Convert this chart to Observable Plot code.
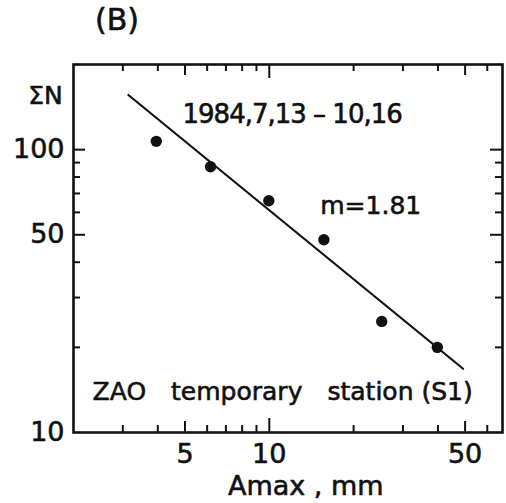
<!DOCTYPE html>
<html>
<head>
<meta charset="utf-8">
<script src="https://cdn.jsdelivr.net/npm/d3@7"></script>
<script src="https://cdn.jsdelivr.net/npm/@observablehq/plot@0.6"></script>
<style>
  html, body { margin: 0; padding: 0; background: #fff; }
  #title { height: 40px; line-height: 40px; font-family: "DejaVu Sans", sans-serif; font-size: 30px; padding-left: 95px; color: #111; -webkit-text-stroke: 0.6px #111; }
  #chart svg { display: block; }
</style>
</head>
<body>
<div id="title">(B)</div>
<div id="chart"></div>
<script>
// Observed data points (Amax in mm, cumulative number ΣN)
const amax = [3.95, 6.17, 9.96, 15.66, 25.2, 39.8];
const sumN = [107, 87, 66, 48, 24.7, 20.0];

// Fitted line end points (m = 1.81)
const fitAmax = [3.14, 49.2];
const fitN = [156, 16.8];

// Tick values
const xMajorTicks = [10];
const xHalfTicks = [5, 50];
const xMinorTicks = [3, 4, 6, 7, 8, 9, 20, 30, 40, 60];
const xTickLabels = [5, 10, 50];
const yMajorTicks = [50, 100];
const yMinorTicks = [20, 30, 40, 60, 70, 80, 90];
const yTickLabels = [10, 50, 100];

// Annotations (text, anchor in data units)
const noteText = ["1984,7,13 \u2013 10,16", "m=1.81", "ZAO\u2003temporary\u2003station (S1)", "\u03A3N", "Amax , mm"];
const noteX = [4.9, 15.2, 2.34, 1.83, 13.5];
const noteY = [124.7, 59.4, 13.0, 145.5, 5.99];
const noteAnchor = ["start", "start", "start", "end", "middle"];
const noteSize = [26, 25, 25, 25, 27];

const points = amax.map((x, i) => ({x, y: sumN[i]}));
const fit = fitAmax.map((x, i) => ({x, y: fitN[i]}));
const notes = noteText.map((t, i) => ({t, x: noteX[i], y: noteY[i], a: noteAnchor[i], s: noteSize[i]}));

const W = 506, H = 463;
const mL = 73, mR = 4, mT = 24, mB = 71;
const fw = W - mL - mR, fh = H - mT - mB;
const ink = "#111";
const font = "DejaVu Sans";
const textStroke = {stroke: ink, strokeWidth: 0.6};

function xTicks(vals, len) {
  return [
    Plot.tickX(vals, {x: d => d, stroke: ink, strokeWidth: 2, insetTop: fh - len}),
    Plot.tickX(vals, {x: d => d, stroke: ink, strokeWidth: 2, insetBottom: fh - len})
  ];
}
function yTicks(vals, len) {
  return [
    Plot.tickY(vals, {y: d => d, stroke: ink, strokeWidth: 2, insetRight: fw - len}),
    Plot.tickY(vals, {y: d => d, stroke: ink, strokeWidth: 2, insetLeft: fw - len})
  ];
}
function noteMark(anchor) {
  return Plot.text(notes.filter(d => d.a === anchor), {
    x: "x", y: "y", text: "t", textAnchor: anchor, fontSize: "s", lineAnchor: "bottom", fill: ink, ...textStroke
  });
}

const chart = Plot.plot({
  width: W,
  height: H,
  marginLeft: mL,
  marginRight: mR,
  marginTop: mT,
  marginBottom: mB,
  style: {fontFamily: font, color: ink, background: "#fff"},
  x: {type: "log", domain: [2, 68], axis: null},
  y: {type: "log", domain: [10, 200], axis: null},
  marks: [
    ...xTicks(xMinorTicks, 7),
    ...xTicks(xHalfTicks, 11),
    ...xTicks(xMajorTicks, 14),
    ...yTicks(yMinorTicks, 7),
    ...yTicks(yMajorTicks, 12),
    Plot.frame({stroke: ink, strokeWidth: 2.6}),
    Plot.text(xTickLabels, {x: d => d, text: d => String(d), frameAnchor: "bottom", lineAnchor: "top", dy: 11, fontSize: 27, fill: ink, ...textStroke}),
    Plot.text(yTickLabels, {y: d => d, text: d => String(d), frameAnchor: "left", textAnchor: "end", dx: -9, fontSize: 27, fill: ink, ...textStroke}),
    Plot.line(fit, {x: "x", y: "y", stroke: ink, strokeWidth: 2.2}),
    Plot.dot(points, {x: "x", y: "y", r: 5.7, fill: ink, stroke: null}),
    noteMark("start"),
    noteMark("end"),
    noteMark("middle")
  ]
});
document.getElementById("chart").appendChild(chart);

// Tighter letter spacing for the date range, as in the original lettering
d3.select(chart).selectAll("text").each(function () {
  if (this.textContent.startsWith("1984")) this.style.letterSpacing = "-1px";
});
</script>
</body>
</html>
